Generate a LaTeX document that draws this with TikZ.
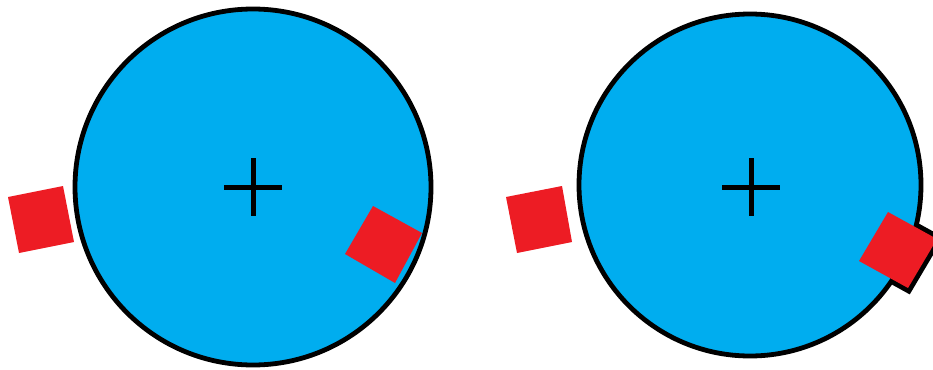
\documentclass[tikz,border=0pt]{standalone}
\definecolor{discblue}{HTML}{00ADEF}
\definecolor{blockred}{HTML}{ED1C24}
\begin{document}
\begin{tikzpicture}[x=1pt,y=-1pt,
  disc/.style={fill=discblue,draw=black,line width=4.8pt},
  block/.style={fill=blockred},
  crossline/.style={draw=black,line width=5pt}]
\useasboundingbox (0,0) rectangle (933,369);
% ---- left disc ----
\coordinate (c1) at (253,187);
\draw[disc] (c1) circle[radius=178];
\draw[crossline] (224,187) -- (282,187) (253,158) -- (253,216);
\fill[block] (8,197) -- (63,186) -- (74,242) -- (19,253) -- cycle;
\fill[block] (373,206) -- (422,233) -- (395,283) -- (345,254) -- cycle;
% ---- right disc ----
\coordinate (c2) at (750,185);
\draw[black,line width=9.5pt,line join=miter] (888,212) -- (937,239) -- (908,288) -- (859,261) -- cycle;
\draw[disc] (c2) circle[radius=171];
\fill[block] (888,212) -- (937,239) -- (908,288) -- (859,261) -- cycle;
\draw[crossline] (722,187) -- (780,187) (751,158) -- (751,216);
\fill[block] (506,197) -- (562,186) -- (572,242) -- (517,253) -- cycle;
\end{tikzpicture}
\end{document}
